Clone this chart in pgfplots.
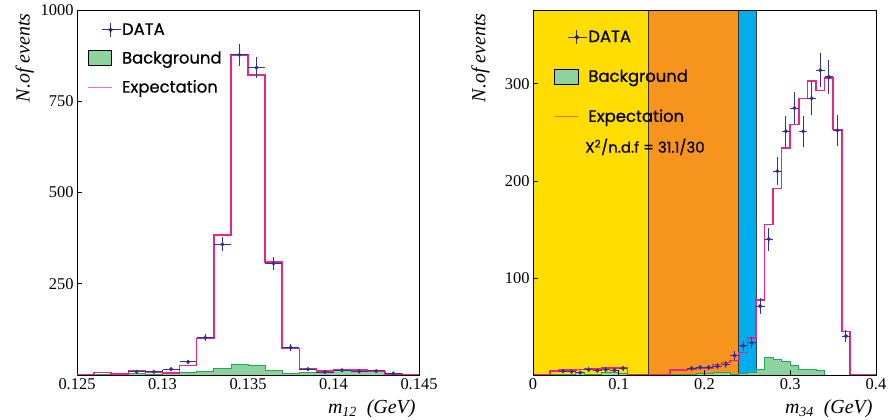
\documentclass[border=0pt]{standalone}
\usepackage{pgfplots}
\pgfplotsset{compat=1.18}
\usepackage{fontspec}
\setmainfont{Liberation Serif}
\newfontfamily\legfont{Poppins}[FakeBold=0.6]
\definecolor{datablue}{RGB}{50,50,150}
\definecolor{expmag}{RGB}{232,38,138}
\definecolor{bgfill}{RGB}{142,210,160}
\definecolor{bgline}{RGB}{30,170,80}
\definecolor{ryellow}{RGB}{255,221,0}
\definecolor{rorange}{RGB}{247,148,30}
\definecolor{rblue}{RGB}{0,174,239}
\pgfplotsset{
  myaxis/.style={
    scale only axis, height=365bp,
    axis line style={line width=0.7pt},
    tick align=inside, xtick pos=bottom, ytick pos=left,
    major tick length=5bp,
    tick style={black, line width=0.6pt},
    /pgf/number format/assume math mode=true,
    /pgf/number format/1000 sep={},
    tick label style={font=\fontsize{16.5}{18}\selectfont},
    every axis y label/.style={at={(axis description cs:-0.19,1)}, rotate=90, anchor=north east, font=\fontsize{20}{22}\selectfont\itshape},
    every axis x label/.style={at={(axis description cs:1,0)}, yshift=-21bp, anchor=north east, font=\fontsize{20}{22}\selectfont\itshape},
    legend style={draw=none, fill=none, font=\legfont\fontsize{16.5}{18}\selectfont, column sep=0pt, nodes={inner sep=1bp}},
    legend cell align=left,
  },
  dataimg/.style={legend image code/.code={
    \draw[draw=datablue,line width=0.9pt] (13.4bp,0)--(32.4bp,0);
    \draw[draw=datablue,line width=0.9pt] (22.4bp,-6.7bp)--(22.4bp,6.7bp);
    \fill[fill=datablue] (22.4bp,0) circle (1.9bp);
    \path (0,0);}},
  bgimg/.style={legend image code/.code={
    \draw[draw=black, fill=bgfill, line width=0.7pt] (0,-7.5bp) rectangle (23.4bp,7.5bp);
    \path (32.4bp,0);}},
  expimg/.style={legend image code/.code={
    \draw[draw=expmag, draw opacity=0.65, line width=1pt] (0,0) -- (23.4bp,0);
    \path (32.4bp,0);}},
  dataplot/.style={forget plot, only marks, mark=*, mark size=1.9bp, datablue,
    error bars/.cd, x dir=both, x explicit, y dir=both, y explicit, error mark=none,
    error bar style={datablue, line width=1pt}},
}
\begin{document}
\begin{tikzpicture}
\path[use as bounding box] (0,0) rectangle (889bp,420bp);
% ---------------- left panel ----------------
\begin{axis}[myaxis, at={(77bp,45bp)}, anchor=south west, width=342bp,
  xmin=0.125, xmax=0.145, ymin=0, ymax=1000,
  xtick={0.125,0.13,0.135,0.14,0.145}, xticklabels={0.125,0.13,0.135,0.14,0.145},
  ytick={250,500,750,1000},
  ylabel={N.of events}, xlabel={m\textsubscript{12}\ \ (GeV)},
  legend style={at={(axis description cs:0.022,0.972)}, anchor=north west, row sep=13bp}]
\addplot[const plot, fill=bgfill, draw=bgline, line width=0.8pt, forget plot] coordinates {
(0.125,0) (0.126,1) (0.127,2) (0.128,4) (0.129,3) (0.130,4) (0.131,6) (0.132,9)
(0.133,18) (0.134,29) (0.135,27) (0.136,12) (0.137,5) (0.138,6) (0.139,8)
(0.140,12) (0.141,13) (0.142,10) (0.143,3) (0.144,0) (0.145,0)} \closedcycle;
\addplot[const plot, expmag, line width=1.6pt, forget plot] coordinates {
(0.125,0) (0.126,7) (0.127,3) (0.128,12) (0.129,8) (0.130,5) (0.131,26) (0.132,100)
(0.133,384) (0.134,877) (0.135,822) (0.136,309) (0.137,73) (0.138,16) (0.139,11)
(0.140,14) (0.141,14) (0.142,10) (0.143,3) (0.144,1) (0.145,1)};
\addplot[dataplot] table[x=x, y=y, x error=ex, y error=ey] {
x y ex ey
0.1285 9 0.0005 3
0.1295 9 0.0005 3
0.1305 16 0.0005 4
0.1315 36 0.0005 6
0.1325 102 0.0005 10
0.1335 358 0.0005 19
0.1345 877 0.0005 30
0.1355 842 0.0005 29
0.1365 306 0.0005 17.5
0.1375 75 0.0005 8.7
0.1385 16 0.0005 4
0.1395 8 0.0005 2.8
0.1405 13 0.0005 3.6
0.1415 10 0.0005 3.2
0.1425 11 0.0005 3.3
0.1435 4 0.0005 2
};
\addlegendimage{dataimg}\addlegendentry{DATA}
\addlegendimage{bgimg}\addlegendentry{Background}
\addlegendimage{expimg}\addlegendentry{Expectation}
\end{axis}
% ---------------- right panel ----------------
\begin{axis}[myaxis, at={(533bp,45bp)}, anchor=south west, width=343bp, axis on top,
  xmin=0, xmax=0.4, ymin=0, ymax=376,
  xtick={0,0.1,0.2,0.3,0.4}, xticklabels={0,0.1,0.2,0.3,0.4},
  ytick={100,200,300},
  ylabel={N.of events}, xlabel={m\textsubscript{34}\ \ (GeV)},
  legend style={at={(axis description cs:0.052,0.952)}, anchor=north west, row sep=24bp}]
\addplot[fill=ryellow, draw=none, forget plot] coordinates {(0,376) (0.134,376)} \closedcycle;
\addplot[fill=rorange, draw=none, forget plot] coordinates {(0.134,376) (0.24,376)} \closedcycle;
\addplot[fill=rblue, draw=none, forget plot] coordinates {(0.24,376) (0.26,376)} \closedcycle;
\addplot[gray!40!black, line width=0.8pt, forget plot] coordinates {(0.134,0) (0.134,376)};
\addplot[gray!40!black, line width=0.8pt, forget plot] coordinates {(0.24,0) (0.24,376)};
\addplot[gray!50!black, line width=0.8pt, forget plot] coordinates {(0.26,0) (0.26,376)};
\addplot[const plot, fill=bgfill, draw=bgline, line width=0.8pt, forget plot] coordinates {
(0,0) (0.02,1) (0.03,1) (0.04,1) (0.05,2.5) (0.06,1) (0.07,1) (0.08,2.5) (0.09,2.5)
(0.10,1.5) (0.11,0) (0.16,0.5) (0.17,0.5) (0.18,1) (0.19,1.5) (0.20,1.5) (0.21,2.5)
(0.22,2.5) (0.23,1) (0.24,2) (0.25,3) (0.26,6) (0.27,18.5) (0.28,16) (0.29,14.5)
(0.30,9.6) (0.31,6) (0.32,6) (0.33,5) (0.34,0) (0.40,0)} \closedcycle;
\addplot[const plot, expmag, line width=1.6pt, forget plot] coordinates {
(0,0) (0.02,4) (0.03,5) (0.04,5) (0.05,5.5) (0.06,6) (0.07,6) (0.08,7.5) (0.09,7)
(0.10,7) (0.11,0) (0.16,5) (0.17,5) (0.18,6) (0.19,7) (0.20,7.5) (0.21,11) (0.22,13)
(0.23,15) (0.24,23) (0.25,38) (0.26,77) (0.27,155) (0.28,192) (0.29,234) (0.30,258)
(0.31,285) (0.32,303) (0.33,293) (0.34,306) (0.35,253) (0.36,45) (0.37,0) (0.40,0)};
\addplot[dataplot] table[x=x, y=y, x error=ex, y error=ey] {
x y ex ey
0.035 4 0.005 2
0.045 3.5 0.005 1.9
0.055 2.5 0.005 1.6
0.065 5.5 0.005 2.3
0.075 4.5 0.005 2.1
0.085 5.5 0.005 2.3
0.095 5 0.005 2.2
0.105 7 0.005 2.6
0.185 7 0.005 2.6
0.195 8 0.005 2.8
0.205 8 0.005 2.8
0.215 9 0.005 3
0.225 11 0.005 3.3
0.235 20 0.005 4.5
0.245 30 0.005 5.5
0.255 33 0.005 5.7
0.265 71 0.005 8.4
0.275 140 0.005 11.8
0.285 210 0.005 14.5
0.295 251 0.005 15.8
0.305 275 0.005 16.6
0.315 251 0.005 15.8
0.325 285 0.005 16.9
0.335 314 0.005 17.7
0.345 307 0.005 17.5
0.355 252 0.005 15.9
0.365 40 0.005 6.3
};
\addlegendimage{dataimg}\addlegendentry{DATA}
\addlegendimage{bgimg}\addlegendentry{Background}
\addlegendimage{expimg}\addlegendentry{Expectation}
\node[anchor=west, inner sep=0pt, font=\legfont\fontsize{15}{17}\selectfont] at (axis description cs:0.152,0.625) {X\textsuperscript{2}/n.d.f = 31.1/30};
\end{axis}
\end{tikzpicture}
\end{document}
